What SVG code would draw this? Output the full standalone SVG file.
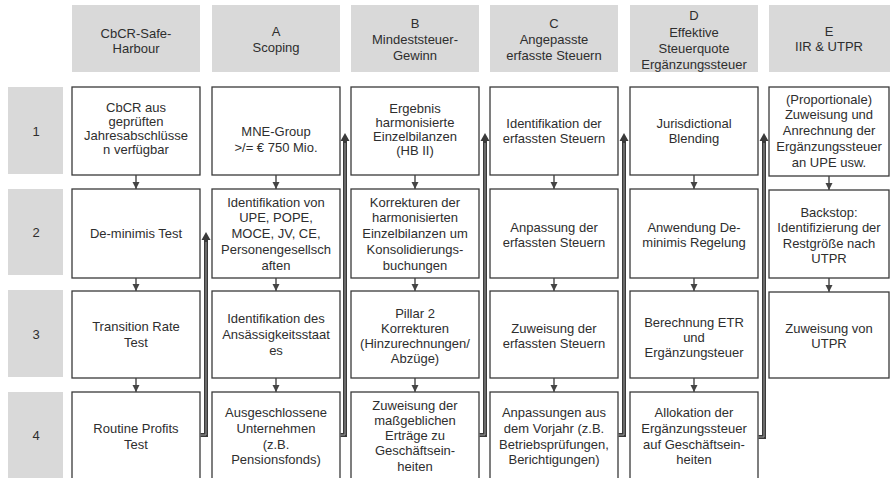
<svg xmlns="http://www.w3.org/2000/svg" width="890" height="478" viewBox="0 0 890 478">
<style>
text{font-family:"Liberation Sans",Arial,sans-serif;fill:#2e2e2e;text-anchor:middle;font-size:13px}
.hd{fill:#d9d9d9;stroke:none}
.bx{fill:#fff;stroke:#3a3a3a;stroke-width:1.3}
.sa{stroke:#444;stroke-width:1.4;fill:none}
.co{stroke:#3a3a3a;stroke-width:4;fill:none}
.ci{stroke:#9a9a9a;stroke-width:1;fill:none}
</style>
<defs>
<marker id="sm" markerUnits="userSpaceOnUse" markerWidth="8" markerHeight="8" refX="7" refY="4" orient="auto"><path d="M0,0.5 L7,4 L0,7.5 z" fill="#444"/></marker>
<marker id="bg" markerUnits="userSpaceOnUse" markerWidth="10" markerHeight="10" refX="0" refY="5" orient="auto"><path d="M0,0.5 L8,5 L0,9.5 z" fill="#3a3a3a"/></marker>
</defs>
<rect width="890" height="478" fill="#fff"/>

<g id="headers">
<g id="h0"><rect class="hd" x="72" y="5" width="128" height="67"/><text x="136" y="37.5">CbCR-Safe-</text><text x="136" y="52.5">Harbour</text></g>
<g id="hA"><rect class="hd" x="212" y="5" width="128" height="67"/><text x="276" y="36">A</text><text x="276" y="51.5">Scoping</text></g>
<g id="hB"><rect class="hd" x="351" y="5" width="128" height="67"/><text x="415" y="27.5">B</text><text x="415" y="43.5">Mindeststeuer-</text><text x="415" y="59.5">Gewinn</text></g>
<g id="hC"><rect class="hd" x="490" y="5" width="128" height="67"/><text x="554" y="28">C</text><text x="554" y="44">Angepasste</text><text x="554" y="60">erfasste Steuern</text></g>
<g id="hD"><rect class="hd" x="630" y="5" width="128" height="67"/><text x="694" y="20">D</text><text x="694" y="36.5">Effektive</text><text x="694" y="53">Steuerquote</text><text x="694" y="69">Ergänzungssteuer</text></g>
<g id="hE"><rect class="hd" x="769" y="5" width="121" height="67"/><text x="829" y="35.5">E</text><text x="829" y="51">IIR &amp; UTPR</text></g>
</g>

<g id="rows">
<g id="r1"><rect class="hd" x="8" y="87" width="55" height="87"/><text x="36" y="135.5">1</text></g>
<g id="r2"><rect class="hd" x="8" y="189" width="55" height="86"/><text x="36" y="237">2</text></g>
<g id="r3"><rect class="hd" x="8" y="290" width="55" height="87"/><text x="36" y="338.5">3</text></g>
<g id="r4"><rect class="hd" x="8" y="392" width="55" height="86"/><text x="36" y="440">4</text></g>
</g>

<g id="n01"><rect class="bx" x="72" y="87" width="128" height="88"/><g style="font-size:14.5px"><text x="136" y="112">CbCR aus</text><text x="136" y="126">geprüften</text><text x="136" y="140">Jahresabschlüsse</text><text x="136" y="154">n verfügbar</text></g></g>
<g id="n02"><rect class="bx" x="72" y="189" width="128" height="89"/><text x="136" y="238">De-minimis Test</text></g>
<g id="n03"><rect class="bx" x="72" y="291" width="128" height="87"/><text x="136" y="331">Transition Rate</text><text x="136" y="347">Test</text></g>
<g id="n04"><rect class="bx" x="72" y="392" width="128" height="100"/><text x="136" y="433">Routine Profits</text><text x="136" y="449">Test</text></g>

<g id="nA1"><rect class="bx" x="212" y="87" width="128" height="88"/><text x="276" y="136">MNE-Group</text><text x="276" y="152">&gt;/= € 750 Mio.</text></g>
<g id="nA2"><rect class="bx" x="212" y="189" width="128" height="89"/><g style="font-size:14px"><text x="276" y="206.5">Identifikation von</text><text x="276" y="222.3">UPE, POPE,</text><text x="276" y="238.1">MOCE, JV, CE,</text><text x="276" y="253.9">Personengesellsch</text><text x="276" y="269.7">aften</text></g></g>
<g id="nA3"><rect class="bx" x="212" y="291" width="128" height="87"/><g style="font-size:14px"><text x="276" y="323">Identifikation des</text><text x="276" y="339">Ansässigkeitsstaat</text><text x="276" y="355">es</text></g></g>
<g id="nA4"><rect class="bx" x="212" y="392" width="128" height="100"/><text x="276" y="416.5">Ausgeschlossene</text><text x="276" y="433">Unternehmen</text><text x="276" y="448.7">(z.B.</text><text x="276" y="464">Pensionsfonds)</text></g>

<g id="nB1"><rect class="bx" x="351" y="87" width="128" height="88"/><g style="font-size:14px"><text x="415" y="113">Ergebnis</text><text x="415" y="127">harmonisierte</text><text x="415" y="141">Einzelbilanzen</text><text x="415" y="155">(HB II)</text></g></g>
<g id="nB2"><rect class="bx" x="351" y="189" width="128" height="89"/><g style="font-size:14px"><text x="415" y="206.5">Korrekturen der</text><text x="415" y="222.3">harmonisierten</text><text x="415" y="238.1">Einzelbilanzen um</text><text x="415" y="253.9">Konsolidierungs-</text><text x="415" y="269.7">buchungen</text></g></g>
<g id="nB3"><rect class="bx" x="351" y="291" width="128" height="87"/><g style="font-size:14px"><text x="415" y="318">Pillar 2</text><text x="415" y="333">Korrekturen</text><text x="415" y="348">(Hinzurechnungen/</text><text x="415" y="363">Abzüge)</text></g></g>
<g id="nB4"><rect class="bx" x="351" y="392" width="128" height="100"/><g style="font-size:14px"><text x="415" y="410">Zuweisung der</text><text x="415" y="425">maßgeblichen</text><text x="415" y="440">Erträge zu</text><text x="415" y="455">Geschäftsein-</text><text x="415" y="471">heiten</text></g></g>

<g id="nC1"><rect class="bx" x="490" y="87" width="128" height="88"/><text x="554" y="128">Identifikation der</text><text x="554" y="143">erfassten Steuern</text></g>
<g id="nC2"><rect class="bx" x="490" y="189" width="128" height="89"/><text x="554" y="231.5">Anpassung der</text><text x="554" y="246.5">erfassten Steuern</text></g>
<g id="nC3"><rect class="bx" x="490" y="291" width="128" height="87"/><text x="554" y="333">Zuweisung der</text><text x="554" y="348">erfassten Steuern</text></g>
<g id="nC4"><rect class="bx" x="490" y="392" width="128" height="100"/><text x="554" y="416.5">Anpassungen aus</text><text x="554" y="433">dem Vorjahr (z.B.</text><text x="554" y="448.5">Betriebsprüfungen,</text><text x="554" y="464">Berichtigungen)</text></g>

<g id="nD1"><rect class="bx" x="630" y="87" width="128" height="88"/><text x="694" y="128">Jurisdictional</text><text x="694" y="143">Blending</text></g>
<g id="nD2"><rect class="bx" x="630" y="189" width="128" height="89"/><text x="694" y="231.5">Anwendung De-</text><text x="694" y="246.5">minimis Regelung</text></g>
<g id="nD3"><rect class="bx" x="630" y="291" width="128" height="87"/><text x="694" y="326.5">Berechnung ETR</text><text x="694" y="341.5">und</text><text x="694" y="356.5">Ergänzungsteuer</text></g>
<g id="nD4"><rect class="bx" x="630" y="392" width="128" height="100"/><text x="694" y="416.5">Allokation der</text><text x="694" y="433">Ergänzungssteuer</text><text x="694" y="448.5">auf Geschäftsein-</text><text x="694" y="464">heiten</text></g>

<g id="nE1"><rect class="bx" x="769" y="87" width="120" height="89"/><g style="font-size:14.5px"><text x="829" y="103.5">(Proportionale)</text><text x="829" y="119.3">Zuweisung und</text><text x="829" y="135.1">Anrechnung der</text><text x="829" y="150.9">Ergänzungssteuer</text><text x="829" y="166.7">an UPE usw.</text></g></g>
<g id="nE2"><rect class="bx" x="769" y="190" width="120" height="88"/><text x="829" y="216.5">Backstop:</text><text x="829" y="231.5">Identifizierung der</text><text x="829" y="247.5">Restgröße nach</text><text x="829" y="263">UTPR</text></g>
<g id="nE3"><rect class="bx" x="769" y="292" width="120" height="86"/><text x="829" y="333">Zuweisung von</text><text x="829" y="348">UTPR</text></g>

<g id="connectors">
<path class="sa" d="M136,175V189" marker-end="url(#sm)"/>
<path class="sa" d="M136,278V291" marker-end="url(#sm)"/>
<path class="sa" d="M136,378V392" marker-end="url(#sm)"/>
<path class="sa" d="M276,175V189" marker-end="url(#sm)"/>
<path class="sa" d="M276,278V291" marker-end="url(#sm)"/>
<path class="sa" d="M276,378V392" marker-end="url(#sm)"/>
<path class="sa" d="M415,175V189" marker-end="url(#sm)"/>
<path class="sa" d="M415,278V291" marker-end="url(#sm)"/>
<path class="sa" d="M415,378V392" marker-end="url(#sm)"/>
<path class="sa" d="M554,175V189" marker-end="url(#sm)"/>
<path class="sa" d="M554,278V291" marker-end="url(#sm)"/>
<path class="sa" d="M554,378V392" marker-end="url(#sm)"/>
<path class="sa" d="M694,175V189" marker-end="url(#sm)"/>
<path class="sa" d="M694,278V291" marker-end="url(#sm)"/>
<path class="sa" d="M694,378V392" marker-end="url(#sm)"/>
<path class="sa" d="M829,176V190" marker-end="url(#sm)"/>
<path class="sa" d="M829,278V292" marker-end="url(#sm)"/>
<path class="co" d="M200.5,435H206V240" marker-end="url(#bg)"/>
<path class="ci" d="M200.5,435H206V242"/>
<path class="co" d="M340.5,435H345V141" marker-end="url(#bg)"/>
<path class="ci" d="M340.5,435H345V143"/>
<path class="co" d="M479.5,435H485V141" marker-end="url(#bg)"/>
<path class="ci" d="M479.5,435H485V143"/>
<path class="co" d="M618.5,435H624V141" marker-end="url(#bg)"/>
<path class="ci" d="M618.5,435H624V143"/>
<path class="co" d="M758.5,437H764V141" marker-end="url(#bg)"/>
<path class="ci" d="M758.5,437H764V143"/>
</g>
</svg>
